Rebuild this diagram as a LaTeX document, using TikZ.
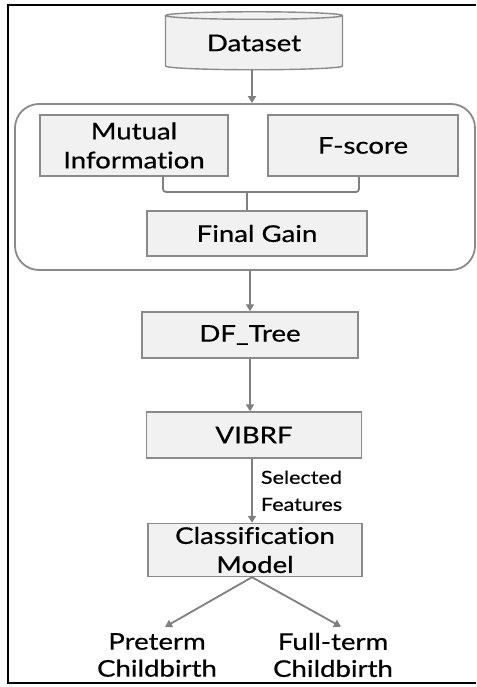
\documentclass[tikz,border=0pt]{standalone}
\usepackage{fontspec}
\setmainfont{Lato}[FakeStretch=1.2, FakeBold=0.6, Ligatures=NoCommon]
\usetikzlibrary{arrows.meta,shapes.geometric,positioning,calc}
\definecolor{boxfill}{HTML}{F1F1F1}
\definecolor{boxline}{HTML}{8A8A8A}
\definecolor{arline}{HTML}{808080}
\tikzset{
  blk/.style = { draw=boxline, line width=1.4pt, fill=boxfill, align=center,
    inner sep=0pt, font=\fontsize{23}{29}\selectfont },
  db/.style  = { blk, cylinder, shape border rotate=90, aspect=0.08,
    minimum width=177pt, minimum height=58pt },
  grp/.style = { draw=boxline, line width=1.8pt, rounded corners=24pt },
  lbl/.style = { align=center, inner sep=0pt, font=\fontsize{23}{27}\selectfont },
  sel/.style = { align=left, inner sep=0pt, font=\fontsize{18}{27}\selectfont },
  arr/.style = { draw=arline, line width=1.8pt, -{Triangle[length=7pt,width=8pt]} },
  lnk/.style = { draw=arline, line width=1.8pt, rounded corners=3pt }
}

\begin{document}
\begin{tikzpicture}[x=1pt,y=-1pt,on grid]
  \useasboundingbox (0,0) rectangle (476,687);
  % frame
  \draw[line width=1.6pt] (476,5) -- (8,5) -- (8,683) -- (476,683);
  % feature ranking group
  \node[grp, minimum width=460pt, minimum height=166pt] (grp) at (245,187) {};
  \node[db] (ds) at (254,43) {Dataset};
  \node[blk, minimum width=188pt, minimum height=61pt] (mi) at (134,145.5) {Mutual\\Information};
  \node[blk, minimum width=190pt, minimum height=61pt, right=229pt of mi] (fs) {F-score};
  \node[blk, minimum width=220pt, minimum height=45pt] (fg) at (257,233.5) {Final Gain};
  \coordinate (jn) at (247,192);
  \draw[lnk] ([xshift=29pt]mi.south) |- (jn) -| ([xshift=-4pt]fs.south);
  \draw[lnk] (jn) -- (jn |- fg.north);
  % pipeline
  \node[blk, minimum width=216pt, minimum height=46pt] (dft) at (250,335) {DF\_Tree};
  \node[blk, minimum width=215pt, minimum height=46pt, below=100pt of dft, xshift=4pt] (vib) {VIBRF};
  \node[blk, minimum width=214pt, minimum height=53pt, below=115pt of vib, xshift=1pt] (cm) {Classification\\Model};
  \node[lbl] (pt) at (157,655) {Preterm\\Childbirth};
  \node[lbl, right=176pt of pt] (ft) {Full-term\\Childbirth};
  \draw[arr] ([xshift=-2pt]ds.south) -- ([xshift=-2pt]ds.south |- grp.north);
  \draw[arr] (grp.south -| dft) -- (dft);
  \draw[arr] (dft) -- (dft |- vib.north);
  \draw[arr] ([xshift=-2pt]vib.south) -- ([xshift=-3pt]cm.north)
    node[midway, right=8pt, sel, anchor=west] {Selected\\Features};
  \draw[arr] ([xshift=-3pt]cm.south) -- ([xshift=8pt,yshift=6pt]pt.north);
  \draw[arr] ([xshift=-3pt]cm.south) -- ([xshift=8pt,yshift=6pt]ft.north);
\end{tikzpicture}
\end{document}
